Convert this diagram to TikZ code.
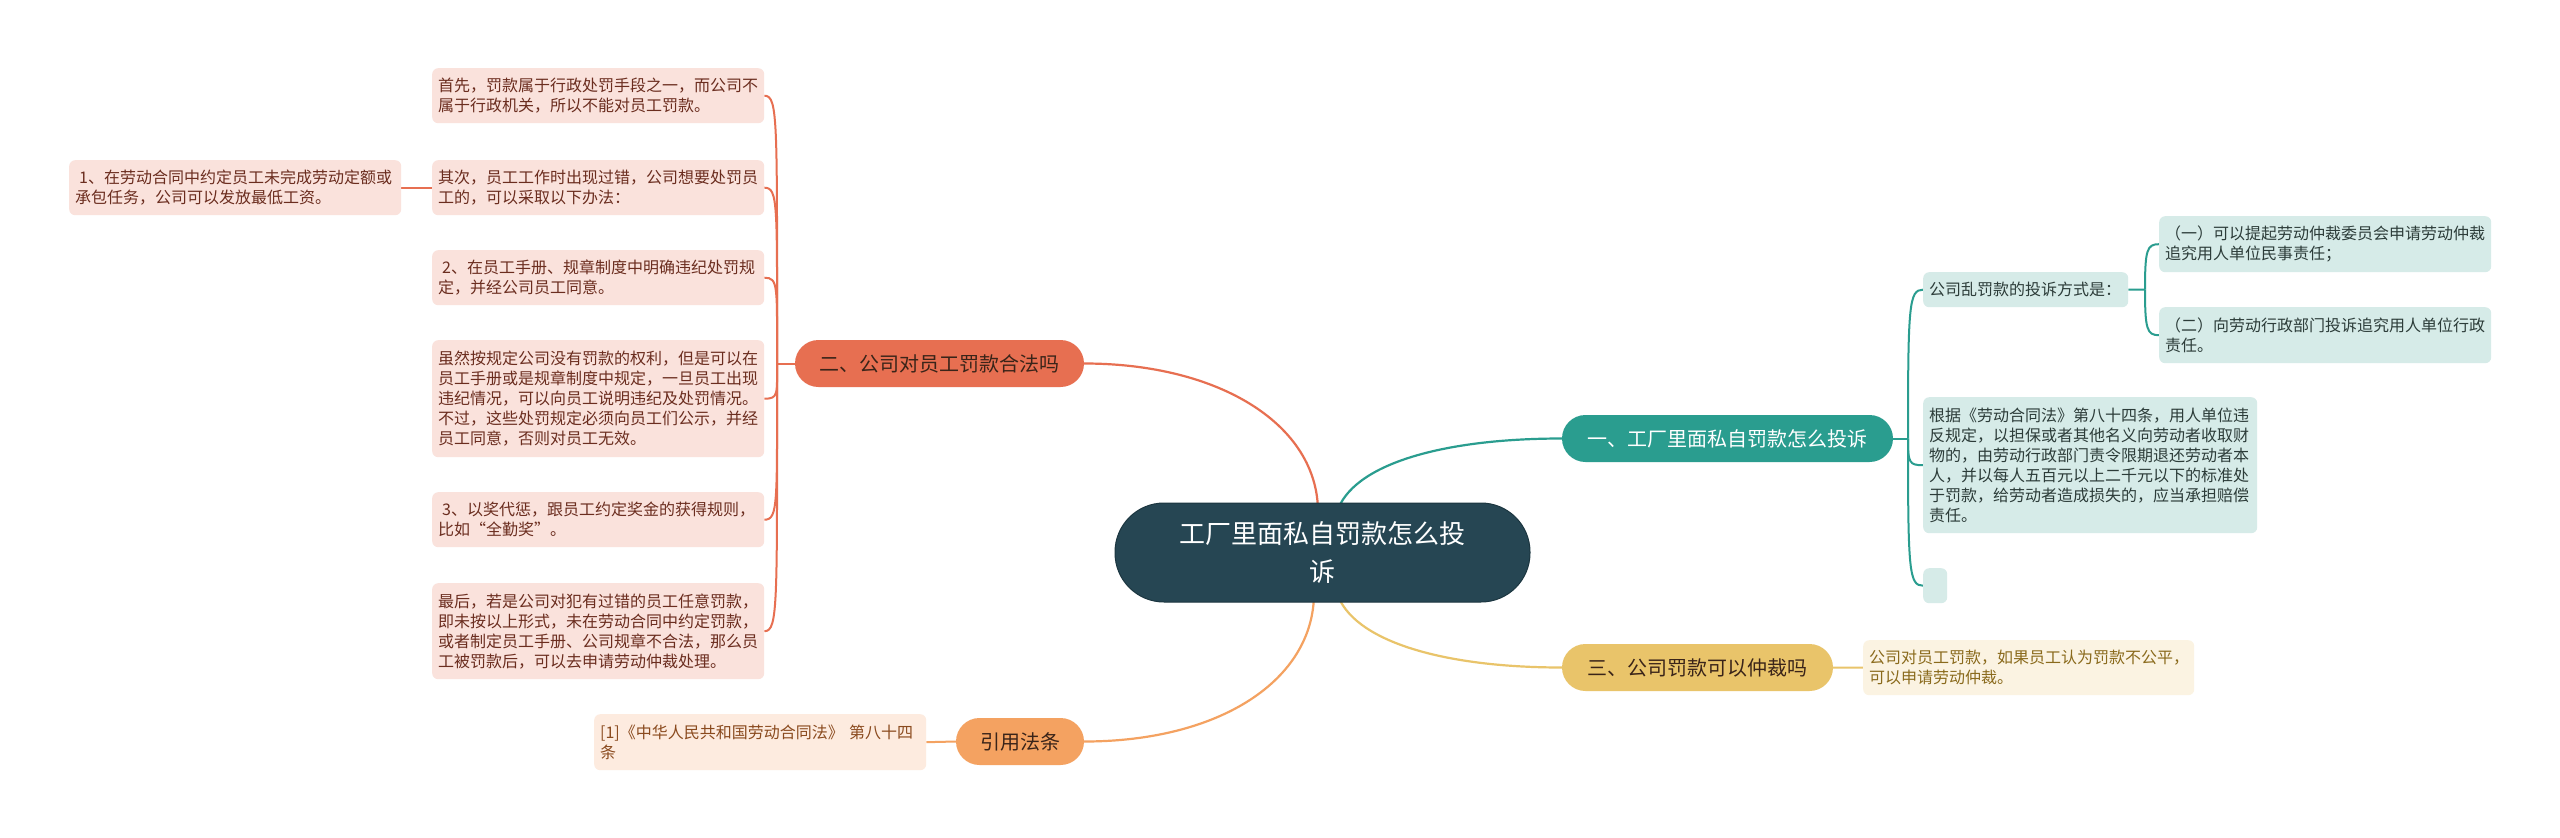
\documentclass[tikz,border=0pt]{standalone}
\usepackage{fontspec}
\setmainfont{Noto Sans CJK SC}
\usetikzlibrary{backgrounds}
\definecolor{cRoot}{HTML}{264653}
\definecolor{cRootB}{HTML}{1C3640}
\definecolor{cTeal}{HTML}{2A9D8F}
\definecolor{cYel}{HTML}{E9C46A}
\definecolor{cOra}{HTML}{F4A261}
\definecolor{cRed}{HTML}{E76F51}
\definecolor{fRed}{HTML}{FAE2DC}
\definecolor{fTeal}{HTML}{D6EBE8}
\definecolor{fYel}{HTML}{FBF3E2}
\definecolor{fOra}{HTML}{FDEBDF}
\definecolor{tRed}{HTML}{6B2D1F}
\definecolor{tTeal}{HTML}{2C3C39}
\definecolor{tYel}{HTML}{8A6A1C}
\definecolor{tOra}{HTML}{8A4A1E}
\definecolor{tDark}{HTML}{3A2419}
\tikzset{
  leafbox/.style={anchor=north west, inner xsep=6pt, inner ysep=0pt, align=left,
    rounded corners=6pt, font=\fontsize{16}{20}\selectfont},
  redleaf/.style={leafbox, fill=fRed, text=tRed},
  tealleaf/.style={leafbox, fill=fTeal, text=tTeal},
  yelleaf/.style={leafbox, fill=fYel, text=tYel},
  oraleaf/.style={leafbox, fill=fOra, text=tOra},
  branchbox/.style={anchor=center, inner xsep=24pt, inner ysep=0pt, minimum height=47pt,
    rounded corners=23.5pt, font=\fontsize{20}{24}\selectfont},
  rootbox/.style={anchor=center, fill=cRoot, draw=cRootB, line width=1pt, text=white,
    align=center, minimum width=415pt, minimum height=99pt, rounded corners=49pt,
    font=\fontsize{26}{38}\selectfont},
  maincurve/.style={line width=2.2pt},
  subline/.style={line width=2pt},
}
\begin{document}
\begin{tikzpicture}[x=1pt,y=-1pt]
\useasboundingbox (0,0) rectangle (2560,838);

% root
\node[rootbox] (root) at (1322.5,552.5) {工厂里面私自罚款怎么投\\诉};

% branches
\node[branchbox, fill=cRed, text=tDark, minimum width=289pt] (b2) at (939.5,363.5) {二、公司对员工罚款合法吗};
\node[branchbox, fill=cTeal, text=white, minimum width=331pt] (b1) at (1727.5,438.5) {一、工厂里面私自罚款怎么投诉};
\node[branchbox, fill=cYel, text=tDark, minimum width=271pt] (b3) at (1697.5,667.5) {三、公司罚款可以仲裁吗};
\node[branchbox, fill=cOra, text=tDark, minimum width=128pt] (b4) at (1020,741.5) {引用法条};

% left leaves
\node[redleaf, text width=320pt, minimum height=55pt] (L1) at (432,68) {首先，罚款属于行政处罚手段之一，而公司不\\属于行政机关，所以不能对员工罚款。};
\node[redleaf, text width=320pt, minimum height=55pt] (L2) at (432,160) {其次，员工工作时出现过错，公司想要处罚员\\工的，可以采取以下办法：};
\node[redleaf, text width=320pt, minimum height=55pt] (L2c) at (69,160) {\hspace*{4pt}1、在劳动合同中约定员工未完成劳动定额或\\承包任务，公司可以发放最低工资。};
\node[redleaf, text width=320pt, minimum height=55pt] (L3) at (432,250) {\hspace*{4pt}2、在员工手册、规章制度中明确违纪处罚规\\定，并经公司员工同意。};
\node[redleaf, text width=320pt, minimum height=117pt] (L4) at (432,340) {虽然按规定公司没有罚款的权利，但是可以在\\员工手册或是规章制度中规定，一旦员工出现\\违纪情况，可以向员工说明违纪及处罚情况。\\不过，这些处罚规定必须向员工们公示，并经\\员工同意，否则对员工无效。};
\node[redleaf, text width=320pt, minimum height=55pt] (L5) at (432,492) {\hspace*{4pt}3、以奖代惩，跟员工约定奖金的获得规则，\\比如“全勤奖”。};
\node[redleaf, text width=320pt, minimum height=96pt] (L6) at (432,583) {最后，若是公司对犯有过错的员工任意罚款，\\即未按以上形式，未在劳动合同中约定罚款，\\或者制定员工手册、公司规章不合法，那么员\\工被罚款后，可以去申请劳动仲裁处理。};

% reference leaf
\node[oraleaf, text width=320pt, minimum height=56pt] (ref) at (594,714) {[1]《中华人民共和国劳动合同法》 第八十四\\条};

% right leaves
\node[tealleaf, text width=193pt, minimum height=35pt] (R1) at (1923,272) {公司乱罚款的投诉方式是：};
\node[tealleaf, text width=322pt, minimum height=136pt] (R2) at (1923,397) {根据《劳动合同法》第八十四条，用人单位违\\反规定，以担保或者其他名义向劳动者收取财\\物的，由劳动行政部门责令限期退还劳动者本\\人，并以每人五百元以上二千元以下的标准处\\于罚款，给劳动者造成损失的，应当承担赔偿\\责任。};
\node[tealleaf, text width=12pt, minimum height=35pt] (R3) at (1923,568) {};
\node[tealleaf, text width=320pt, minimum height=56pt] (C1) at (2159,216) {（一）可以提起劳动仲裁委员会申请劳动仲裁\\追究用人单位民事责任；};
\node[tealleaf, text width=320pt, minimum height=56pt] (C2) at (2159,307) {（二）向劳动行政部门投诉追究用人单位行政\\责任。};

% yellow leaf
\node[yelleaf, text width=319pt, minimum height=55pt] (Y1) at (1863,640) {公司对员工罚款，如果员工认为罚款不公平，\\可以申请劳动仲裁。};

% junction points
\coordinate (rA) at (1318,512);
\coordinate (rB) at (1337,512);
\coordinate (rC) at (1337,593);
\coordinate (rD) at (1314,593);
\coordinate (j2) at (777,363.5);
\coordinate (j1) at (1908,438.5);
\coordinate (jR) at (2145,289.5);

\begin{scope}[on background layer]
  \fill[white] (0,0) rectangle (2560,838);
  % root connectors
  \draw[maincurve, cRed] (rA) .. controls (1318,425) and (1220,363.5) .. (b2.east);
  \draw[maincurve, cTeal] (rB) .. controls (1352,465) and (1440,438.5) .. (b1.west);
  \draw[maincurve, cYel] (rC) .. controls (1352,640) and (1440,667.5) .. (b3.west);
  \draw[maincurve, cOra] (rD) .. controls (1314,680) and (1220,741.5) .. (b4.east);

  % left trunk
  \draw[subline, cRed] (b2.west) -- (j2);
  \draw[subline, cRed] (j2) .. controls +(0,-242) and +(14,0) .. (L1.east);
  \draw[subline, cRed] (j2) .. controls +(0,-159) and +(14,0) .. (L2.east);
  \draw[subline, cRed] (j2) .. controls +(0,-78) and +(14,0) .. (L3.east);
  \draw[subline, cRed] (j2) .. controls +(0,31) and +(14,0) .. (L4.east);
  \draw[subline, cRed] (j2) .. controls +(0,140) and +(14,0) .. (L5.east);
  \draw[subline, cRed] (j2) .. controls +(0,240) and +(14,0) .. (L6.east);
  \draw[subline, cRed] (L2.west) -- (L2c.east);

  % right trunk
  \draw[subline, cTeal] (b1.east) -- (j1);
  \draw[subline, cTeal] (j1) .. controls +(0,-134) and +(-14,0) .. (R1.west);
  \draw[subline, cTeal] (j1) .. controls +(0,24) and +(-14,0) .. (R2.west);
  \draw[subline, cTeal] (j1) .. controls +(0,132) and +(-14,0) .. (R3.west);
  \draw[subline, cTeal] (R1.east) -- (jR);
  \draw[subline, cTeal] (jR) .. controls +(0,-40) and +(-12,0) .. (C1.west);
  \draw[subline, cTeal] (jR) .. controls +(0,40) and +(-12,0) .. (C2.west);

  % single links
  \draw[subline, cYel] (b3.east) -- (Y1.west);
  \draw[subline, cOra] (b4.west) -- (ref.east);
\end{scope}
\end{tikzpicture}
\end{document}
